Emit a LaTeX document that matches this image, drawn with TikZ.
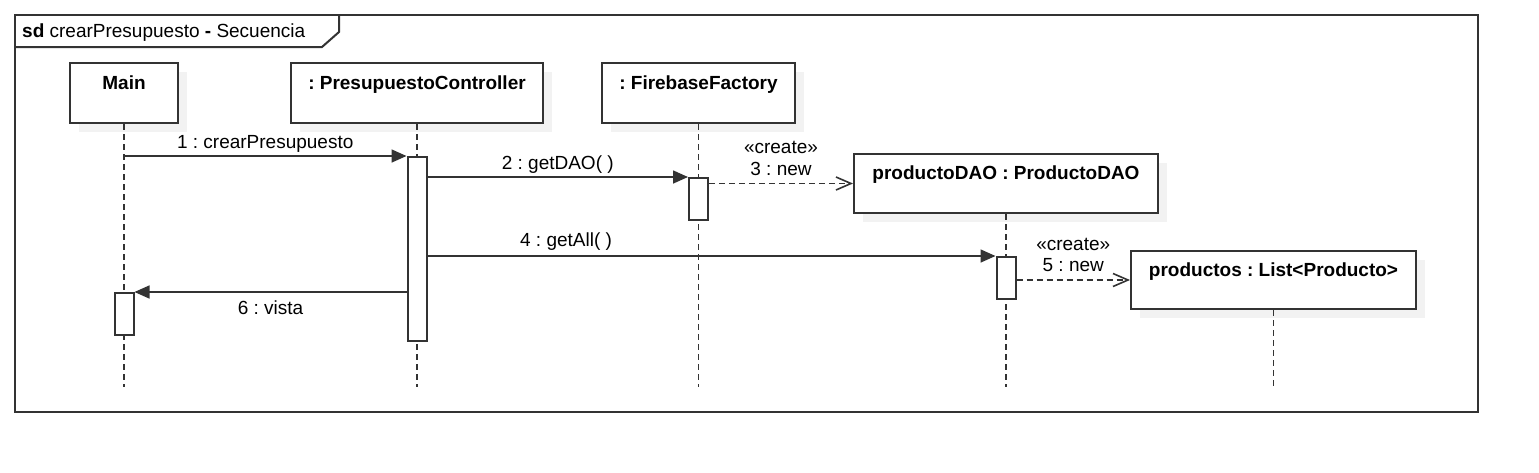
\documentclass[tikz,border=0pt]{standalone}
\usepackage{fontspec}
\setmainfont{Liberation Sans}
\usetikzlibrary{arrows.meta,shadows}
\frenchspacing

\definecolor{umlline}{HTML}{333333}
\definecolor{umlshadow}{HTML}{F2F2F2}

\begin{document}
\begin{tikzpicture}[x=1pt,y=-1pt,font=\fontsize{19}{23}\selectfont]
\tikzstyle{object}=[draw=umlline,line width=2pt,fill=white,inner sep=0pt,
  minimum height=60pt,text height=14pt,text depth=22pt,
  font=\fontsize{19}{23}\selectfont\bfseries,
  drop shadow={shadow xshift=9pt,shadow yshift=-9pt,fill=umlshadow,opacity=1}]
\tikzstyle{act}=[draw=umlline,line width=2pt,fill=white,inner sep=0pt,
  minimum width=19pt,anchor=north]
\tikzstyle{lifeline}=[draw=umlline,line width=1.8pt,dash pattern=on 6pt off 4pt]
\tikzstyle{msg}=[draw=umlline,line width=1.6pt,-{Triangle[length=15pt,width=13pt]}]
\tikzstyle{create}=[draw=umlline,line width=1.6pt,dash pattern=on 6pt off 4pt,
  -{Straight Barb[length=15pt,width=13pt]}]
\tikzstyle{lbl}=[anchor=base,inner sep=0pt]
\tikzstyle{frame}=[draw=umlline,line width=2pt]

\useasboundingbox[fill=white] (0,0) rectangle (1539,472);

% frame
\draw[frame] (15,15) rectangle (1478,412);
\draw[frame] (15,47) -- (322,47) -- (339,32) -- (339,15);
\node[anchor=base west,inner sep=0pt] (title) at (22,37)
  {\textbf{sd} crearPresupuesto \textbf{-} Secuencia};

% objects
\node[object,minimum width=108pt] (main) at (124,93) {Main};
\node[object,minimum width=252pt] (ctrl) at (417,93) {: PresupuestoController};
\node[object,minimum width=193pt] (fire) at (698.5,93) {: FirebaseFactory};
\node[object,minimum width=304pt,minimum height=59pt] (dao) at (1006,183.5) {productoDAO : ProductoDAO};
\node[object,minimum width=285pt,minimum height=58pt] (prod) at (1273.5,280) {productos : List<Producto>};

% lifelines
\coordinate (mainEnd) at (main |- 0,387);
\coordinate (ctrlEnd) at (ctrl |- 0,387);
\coordinate (fireEnd) at (fire |- 0,387);
\coordinate (daoEnd) at (dao |- 0,387);
\coordinate (prodEnd) at (prod |- 0,387);
\draw[lifeline] (main) -- (mainEnd);
\draw[lifeline] (ctrl) -- (ctrlEnd);
\draw[lifeline] (fire) -- (fireEnd);
\draw[lifeline] (dao) -- (daoEnd);
\draw[lifeline] (prod) -- (prodEnd);

% activations
\node[act,minimum height=184pt] (actC) at (ctrl.south |- 0,156) {};
\node[act,minimum height=42pt] (actF) at (fire.south |- 0,177) {};
\node[act,minimum height=42pt] (actD) at (dao.south |- 0,256) {};
\node[act,minimum height=42pt] (actM) at (main.south |- 0,292) {};

% messages
\path (main |- actC.north west) edge[msg] node[lbl,yshift=8pt] {1 : crearPresupuesto} (actC.north west);
\path (actC.east |- actF.north) edge[msg] node[lbl,yshift=8pt] {2 : getDAO( )} (actF.north west);
\path (actF.east |- dao.west) edge[create] node[lbl,yshift=8pt] {3 : new}
    node[lbl,yshift=30pt] {«create»} (dao.west);
\path (actC.east |- actD.north) edge[msg] node[lbl,pos=0.244,yshift=10pt] {4 : getAll( )} (actD.north west);
\path (actD.east |- prod.west) edge[create] node[lbl,yshift=9pt] {5 : new}
    node[lbl,yshift=30pt] {«create»} (prod.west);
\path (actC.west |- actM.north) edge[msg] node[lbl,yshift=-22pt] {6 : vista} (actM.north east);
\end{tikzpicture}
\end{document}
